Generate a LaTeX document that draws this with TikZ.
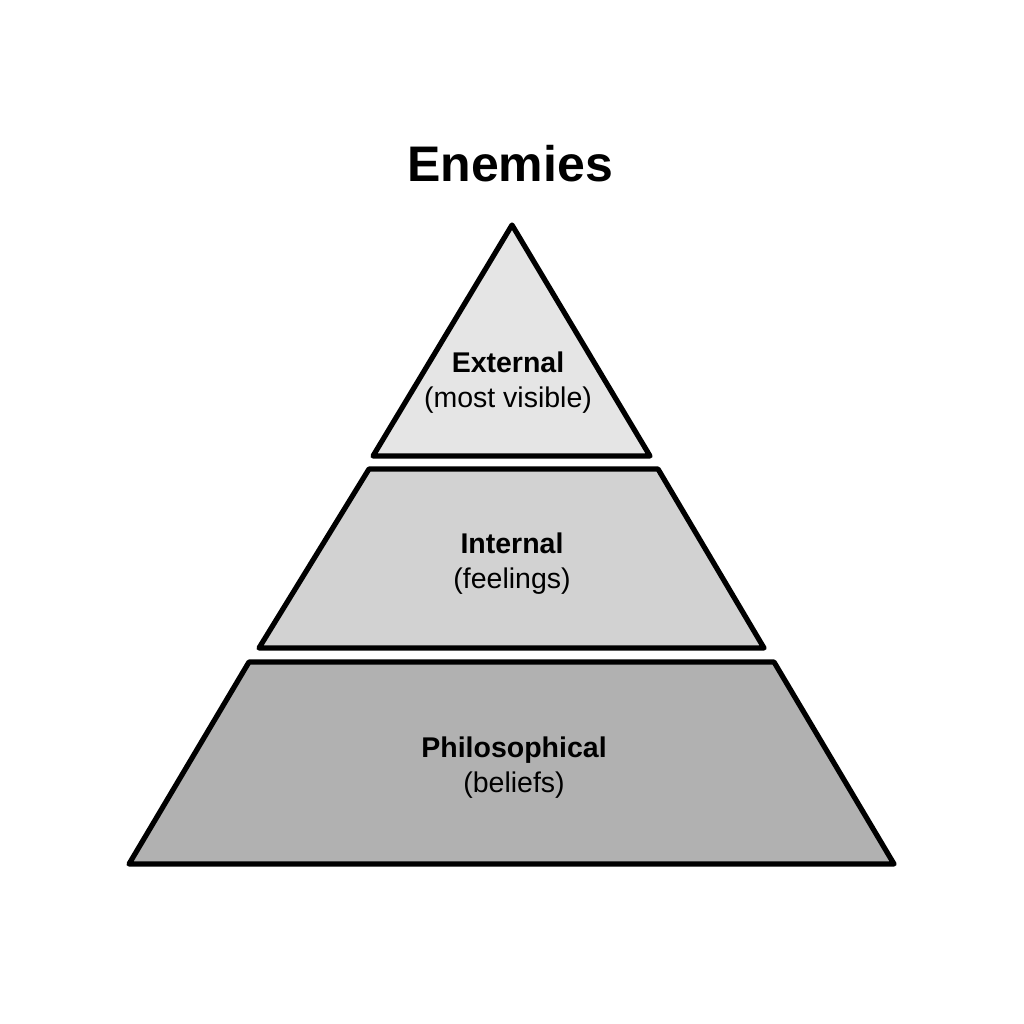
\documentclass[tikz,border=0pt]{standalone}
\usepackage{fontspec}
\setmainfont{Liberation Sans}
\begin{document}
\begin{tikzpicture}[x=1pt,y=-1pt,
  tier/.style={draw=black,line width=5.2pt,line join=round},
  lbl/.style={align=center,font=\fontsize{28.5}{35}\selectfont,inner sep=0pt}]
\useasboundingbox[fill=white] (0,0) rectangle (1024,1024);
\node[font=\fontsize{50}{58}\selectfont\bfseries,anchor=base] (title) at (510,182) {Enemies};
\draw[tier,fill=gray!20!white] (512,225) -- (650,456) -- (373,456) -- cycle;
\draw[tier,fill=gray!35!white] (369,469) -- (658,469) -- (764,648) -- (259,648) -- cycle;
\draw[tier,fill=gray!61!white] (249,662) -- (774,662) -- (894,864) -- (129,864) -- cycle;
\node[lbl] (ext) at (508,383) {\textbf{External}\\(most visible)};
\node[lbl] (int) at (512,564) {\textbf{Internal}\\(feelings)};
\node[lbl] (phi) at (514,768) {\textbf{Philosophical}\\(beliefs)};
\end{tikzpicture}
\end{document}
